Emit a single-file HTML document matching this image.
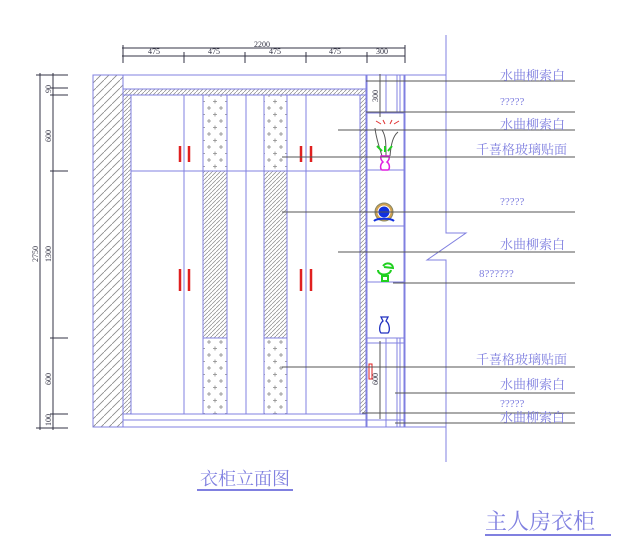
<!DOCTYPE html>
<html><head><meta charset="utf-8"><style>
html,body{margin:0;padding:0;background:#fff;}
svg{display:block;}
text{font-family:"Liberation Serif","Noto Serif CJK SC",serif;}
</style></head><body>
<svg width="632" height="557" viewBox="0 0 632 557" xmlns="http://www.w3.org/2000/svg">
<defs>
<pattern id="h" width="8" height="8" patternUnits="userSpaceOnUse"><path d="M-1,9 L9,-1" stroke="#888" stroke-width="0.8"/></pattern>
<pattern id="hs" width="4" height="4" patternUnits="userSpaceOnUse"><path d="M-1,5 L5,-1" stroke="#888" stroke-width="0.7"/></pattern>
<pattern id="d" width="12" height="13" patternUnits="userSpaceOnUse"><path d="M3,4h4M5,2v4" stroke="#888" stroke-width="0.8"/><path d="M9,10.5h4M11,8.5v4M-3,10.5h4" stroke="#888" stroke-width="0.8"/></pattern>
</defs>
<g fill="none" stroke="#8080e0" stroke-width="1">
<g stroke="#334">
<line x1="122" y1="48" x2="405" y2="48"/>
<line x1="122" y1="56" x2="405" y2="56"/>
<path d="M123,45v18M184,52v11M245,52v11M306,52v11M367,52v11M405,45v18"/>
<line x1="40" y1="73" x2="40" y2="430"/>
<line x1="53" y1="73" x2="53" y2="430"/>
<path d="M36,75h32M50,88h18M50,95h18M50,171h18M50,338h18M50,414h18M36,428h32"/>
</g>
<rect x="93" y="75" width="30" height="352" fill="url(#h)"/>
<rect x="93" y="75" width="312" height="352"/>
<line x1="123" y1="75" x2="123" y2="427"/>
<rect x="123" y="89" width="243" height="6" fill="url(#hs)"/>
<rect x="123" y="95" width="8" height="319" fill="url(#hs)"/>
<rect x="360" y="95" width="6" height="319" fill="url(#hs)"/>
<line x1="123" y1="89" x2="366" y2="89"/>
<line x1="131" y1="95" x2="360" y2="95"/>
<line x1="131" y1="95" x2="131" y2="414"/>
<line x1="360" y1="95" x2="360" y2="414"/>
<line x1="123" y1="414" x2="366" y2="414"/>
<line x1="131" y1="171" x2="360" y2="171"/>
<path d="M184,95v319M246,95v319M306,95v319"/>
<rect x="203" y="95" width="24" height="76" fill="url(#d)"/>
<rect x="264" y="95" width="23" height="76" fill="url(#d)"/>
<rect x="203" y="171" width="24" height="167" fill="url(#hs)"/>
<rect x="264" y="171" width="23" height="167" fill="url(#hs)"/>
<rect x="203" y="338" width="24" height="76" fill="url(#d)"/>
<rect x="264" y="338" width="23" height="76" fill="url(#d)"/>
<line x1="366" y1="75" x2="366" y2="427"/>
<line x1="367" y1="75" x2="367" y2="427"/>
<line x1="404" y1="75" x2="404" y2="427"/>
<path d="M367,113h38M367,170h38M367,226h38M367,282h38M367,338h38"/>
<path d="M386,75v38M397,75v38M400,75v38"/>
<path d="M386,338v89M397,338v89M400,338v89"/>
<line x1="367" y1="343" x2="404" y2="343"/>
<line x1="367" y1="420" x2="404" y2="420"/>
<line x1="123" y1="420" x2="367" y2="420"/>
<line x1="405" y1="75" x2="446" y2="75"/>
<line x1="405" y1="427" x2="446" y2="427"/>
<path d="M446,35V233H466L427,260H446V462"/>
</g>
<g stroke="#e02020" stroke-width="2.5">
<path d="M180,146v16M189,146v16M301,146v16M311,146v16M180,269v22M189,269v22M301,269v22M311,269v22"/>
</g>
<rect x="369" y="364" width="3" height="15" fill="none" stroke="#e02020"/>
<path d="M376,121l5,3M383,120l2,4M392,120l-2,4M399,121l-5,3" stroke="#e03030"/>
<path d="M382,156c-3,-10 -6,-18 -7,-28M386,156c0,-12 0,-20 -4,-26M390,156c1,-12 3,-20 8,-24" stroke="#555" fill="none"/>
<path d="M377,146l5,5M392,146l-4,5M385,146v6" stroke="#2c2" stroke-width="2"/>
<path d="M381,156h8c1,3 -1,5 -2,6c3,2 3,7 1,8h-6c-2,-1 -2,-6 1,-8c-1,-1 -3,-3 -2,-6z" fill="none" stroke="#e020e0" stroke-width="1.5"/>
<circle cx="384" cy="212" r="9" fill="#d0a050" stroke="#886"/>
<circle cx="384" cy="212" r="6" fill="#1030e0" stroke="#fff"/>
<path d="M374,221c3,-3 17,-3 20,0" stroke="#1030e0" stroke-width="2" fill="none"/>
<path d="M378,270c0,6 12,6 13,0M383,266c4,-5 10,-2 10,2l-9,-1M382,276h6v5h-6z" stroke="#20d020" stroke-width="2" fill="none"/>
<path d="M381,317h7l-2,4c4,3 4,10 2,12h-7c-2,-2 -2,-9 2,-12z" stroke="#2030c0" stroke-width="1.3" fill="none"/>
<g stroke="#555" stroke-width="1">
<path d="M366,81H575M366,112H575M338,130H575M282,157H575M282,212H575M338,252H575M393,283H575M282,367H575M395,393H575M362,413H575M395,423H575"/>
<line x1="380" y1="74" x2="380" y2="117"/>
<line x1="380" y1="341" x2="380" y2="419"/>
</g>
<g font-size="8" fill="#334">
<text x="148" y="54">475</text><text x="208" y="54">475</text><text x="269" y="54">475</text><text x="329" y="54">475</text><text x="376" y="54">300</text>
<text x="254" y="47">2200</text>
<text transform="translate(38,262) rotate(-90)">2750</text>
<text transform="translate(51,93) rotate(-90)">90</text>
<text transform="translate(51,142) rotate(-90)">600</text>
<text transform="translate(51,262) rotate(-90)">1300</text>
<text transform="translate(51,385) rotate(-90)">600</text>
<text transform="translate(51,426) rotate(-90)">100</text>
<text transform="translate(378,102) rotate(-90)">300</text>
<text transform="translate(378,385) rotate(-90)">600</text>
</g>
<g font-size="13" fill="#8080e0">
<text x="500" y="80">水曲柳索白</text>
<text x="500" y="105" font-size="11" font-family="Liberation Sans,sans-serif">?????</text>
<text x="500" y="129">水曲柳索白</text>
<text x="476" y="154">千喜格玻璃贴面</text>
<text x="500" y="205" font-size="11" font-family="Liberation Sans,sans-serif">?????</text>
<text x="500" y="249">水曲柳索白</text>
<text x="479" y="277" font-size="11" font-family="Liberation Sans,sans-serif">8??????</text>
<text x="476" y="364">千喜格玻璃贴面</text>
<text x="500" y="389">水曲柳索白</text>
<text x="500" y="407" font-size="11" font-family="Liberation Sans,sans-serif">?????</text>
<text x="500" y="422">水曲柳索白</text>
</g>
<text x="200" y="485" font-size="18" fill="#8080e0">衣柜立面图</text>
<line x1="197" y1="490" x2="293" y2="490" stroke="#8080e0" stroke-width="2"/>
<text x="485" y="529" font-size="22" fill="#8080e0">主人房衣柜</text>
<line x1="485" y1="535" x2="611" y2="535" stroke="#8080e0" stroke-width="2"/>
</svg>
</body></html>
